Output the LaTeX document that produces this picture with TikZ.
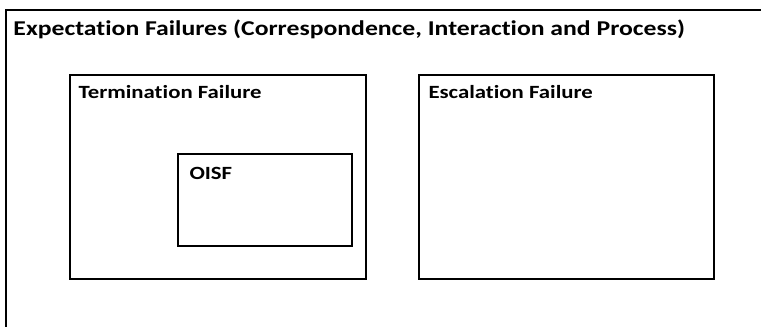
\documentclass[tikz,border=0pt]{standalone}
\usepackage{fontspec}
\setmainfont[Ligatures=NoCommon]{Carlito}
\newfontfamily\widebold[Ligatures=NoCommon, FakeStretch=1.22, BoldFont={Carlito Bold}]{Carlito Bold}
\tikzset{every picture/.style={line width=0.75pt}}
\tikzset{
  failbox/.style={draw=black, line width=1.5pt},
  boxtitle/.style={anchor=base west, inner sep=0pt, font=\widebold\fontsize{14}{17}\selectfont},
}

\begin{document}
\begin{tikzpicture}[x=0.75pt,y=0.75pt,yscale=-1,xscale=1]
\useasboundingbox (0,0) rectangle (761,327);
\clip (0,0) rectangle (761,327);

%Shape: Rectangle [id:outer] 
\draw [failbox]  (6,10) -- (775,10) -- (775,340) -- (6,340) -- cycle ;
%Shape: Rectangle [id:termination] 
\draw [failbox]  (70,75) -- (366,75) -- (366,279) -- (70,279) -- cycle ;
%Shape: Rectangle [id:escalation] 
\draw [failbox]  (419,75) -- (714,75) -- (714,279) -- (419,279) -- cycle ;
%Shape: Rectangle [id:oisf] 
\draw [failbox]  (178,154) -- (352,154) -- (352,246) -- (178,246) -- cycle ;

% Text
\node (expect) [boxtitle, font=\widebold\fontsize{15.8}{19}\selectfont] at (13,36) {Expectation Failures (Correspondence, Interaction and Process)};
\node (termfail) [boxtitle] at (78,99) {Termination Failure};
\node (escfail) [boxtitle] at (428,99) {Escalation Failure};
\node (oisfname) [boxtitle] at (189,180) {OISF};

\end{tikzpicture}
\end{document}
